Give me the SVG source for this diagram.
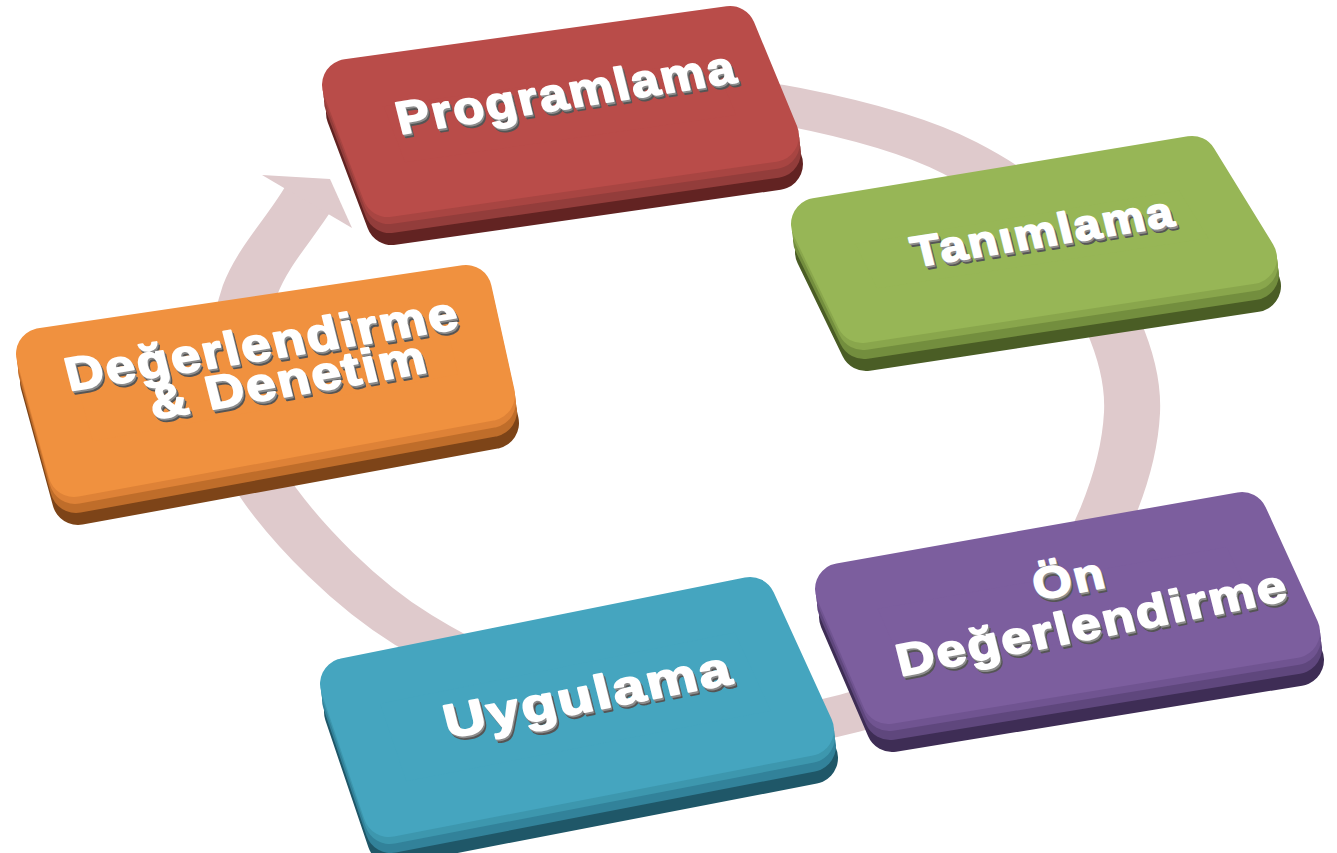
<svg xmlns="http://www.w3.org/2000/svg" xmlns:xlink="http://www.w3.org/1999/xlink" width="1337" height="853" viewBox="0 0 1337 853">
<style>
.sh{stroke-linejoin:round;stroke-width:52}
.lbl{font-family:"Liberation Sans",Arial,sans-serif;font-weight:700;letter-spacing:2px;text-anchor:middle;stroke-width:1.8;stroke-linejoin:round}
.red .f{fill:#b94c49;stroke:#b94c49}.red .l{fill:#a84542;stroke:#a84542}.red .m{fill:#933d3b;stroke:#933d3b}.red .d{fill:#622322;stroke:#622322}
.grn .f{fill:#97b656;stroke:#97b656}.grn .l{fill:#89a64c;stroke:#89a64c}.grn .m{fill:#738e3e;stroke:#738e3e}.grn .d{fill:#4a5d25;stroke:#4a5d25}
.org .f{fill:#f0913f;stroke:#f0913f}.org .l{fill:#de8237;stroke:#de8237}.org .m{fill:#bf6d2a;stroke:#bf6d2a}.org .d{fill:#7d4418;stroke:#7d4418}
.tea .f{fill:#45a5bf;stroke:#45a5bf}.tea .l{fill:#3d97ae;stroke:#3d97ae}.tea .m{fill:#32829a;stroke:#32829a}.tea .d{fill:#1f5768;stroke:#1f5768}
.pur .f{fill:#7c5e9e;stroke:#7c5e9e}.pur .l{fill:#705491;stroke:#705491}.pur .m{fill:#5f477d;stroke:#5f477d}.pur .d{fill:#3e2d55;stroke:#3e2d55}
</style>
<rect width="1337" height="853" fill="#ffffff"/>
<g id="connectors">
  <g transform="matrix(1,0,0,0.7,0,123)">
    <path d="M620,-44 C678,-37 736,-39 793,-23 C850,-7 914,16 960,50 C1006,84 1041,120 1070,181 C1099,242 1135,329 1132,414 C1129,499 1097,618 1050,690 C1003,762 920,816 850,843 C780,870 703,870 630,850 C557,830 473,777 413,724 C353,671 300,590 271,534 C242,478 242,439 238,390 C234,341 239,286 250,239 C262,193 288,154 307,111 L313,97" fill="none" stroke="#dfcacc" stroke-width="56"/>
  </g>
  <polygon points="262,175 330,179 352,228" fill="#dfcacc"/>
</g>

<g id="node-programlama" class="red">
  <polygon class="sh d" transform="translate(4,28)" points="348,85 730,32 773,136 388,191"/>
  <polygon class="sh m" transform="translate(2,16)" points="348,85 730,32 773,136 388,191"/>
  <polygon class="sh l" transform="translate(1,7)" points="348,85 730,32 773,136 388,191"/>
  <polygon class="sh f" points="348,85 730,32 773,136 388,191"/>
  <use xlink:href="#t1" transform="translate(2.5,3.5)" fill="#555" stroke="#555"/>
  <use xlink:href="#t1" transform="translate(1.2,1.8)" fill="#8c8c8c" stroke="#8c8c8c"/>
  <g fill="#fff" stroke="#fff"><text id="t1" class="lbl" font-size="45" x="0" y="16" transform="matrix(1.097,-0.17,0.25,1,566,92)">Programlama</text></g>
</g>

<g id="node-tanimlama" class="grn">
  <polygon class="sh d" transform="translate(4,28)" points="817,224 1192,162 1251,258 862,317"/>
  <polygon class="sh m" transform="translate(2,16)" points="817,224 1192,162 1251,258 862,317"/>
  <polygon class="sh l" transform="translate(1,7)" points="817,224 1192,162 1251,258 862,317"/>
  <polygon class="sh f" points="817,224 1192,162 1251,258 862,317"/>
  <use xlink:href="#t2" transform="translate(2.5,3.5)" fill="#555" stroke="#555"/>
  <use xlink:href="#t2" transform="translate(1.2,1.8)" fill="#8c8c8c" stroke="#8c8c8c"/>
  <g fill="#fff" stroke="#fff"><text id="t2" class="lbl" font-size="42" x="0" y="15" transform="matrix(1.12,-0.179,0.25,1,1043,231)">Tanımlama</text></g>
</g>

<g id="node-on-degerlendirme" class="pur">
  <polygon class="sh d" transform="translate(4,28)" points="841,589 1242,518 1294,632 888,698"/>
  <polygon class="sh m" transform="translate(2,16)" points="841,589 1242,518 1294,632 888,698"/>
  <polygon class="sh l" transform="translate(1,7)" points="841,589 1242,518 1294,632 888,698"/>
  <polygon class="sh f" points="841,589 1242,518 1294,632 888,698"/>
  <use xlink:href="#t3" transform="translate(2.5,3.5)" fill="#555" stroke="#555"/>
  <use xlink:href="#t3" transform="translate(1.2,1.8)" fill="#8c8c8c" stroke="#8c8c8c"/>
  <use xlink:href="#t4" transform="translate(2.5,3.5)" fill="#555" stroke="#555"/>
  <use xlink:href="#t4" transform="translate(1.2,1.8)" fill="#8c8c8c" stroke="#8c8c8c"/>
  <g fill="#fff" stroke="#fff">
    <text id="t3" class="lbl" font-size="43" x="0" y="15.4" transform="matrix(1.135,-0.216,0.25,1,1069,578)">Ön</text>
    <text id="t4" class="lbl" font-size="44" x="0" y="15.8" transform="matrix(1.17,-0.23,0.25,1,1092,622)">Değerlendirme</text>
  </g>
</g>

<g id="node-uygulama" class="tea">
  <polygon class="sh d" transform="translate(4,28)" points="346,684 750,603 808,730 389,811"/>
  <polygon class="sh m" transform="translate(2,16)" points="346,684 750,603 808,730 389,811"/>
  <polygon class="sh l" transform="translate(1,7)" points="346,684 750,603 808,730 389,811"/>
  <polygon class="sh f" points="346,684 750,603 808,730 389,811"/>
  <use xlink:href="#t5" transform="translate(2.5,3.5)" fill="#555" stroke="#555"/>
  <use xlink:href="#t5" transform="translate(1.2,1.8)" fill="#8c8c8c" stroke="#8c8c8c"/>
  <g fill="#fff" stroke="#fff"><text id="t5" class="lbl" font-size="46" x="0" y="16.5" transform="matrix(1.22,-0.235,0.25,1,588,694)">Uygulama</text></g>
</g>

<g id="node-degerlendirme-denetim" class="org">
  <polygon class="sh d" transform="translate(4,28)" points="42,354 466,291 489,395 74,471"/>
  <polygon class="sh m" transform="translate(2,16)" points="42,354 466,291 489,395 74,471"/>
  <polygon class="sh l" transform="translate(1,7)" points="42,354 466,291 489,395 74,471"/>
  <polygon class="sh f" points="42,354 466,291 489,395 74,471"/>
  <use xlink:href="#t6" transform="translate(2.5,3.5)" fill="#555" stroke="#555"/>
  <use xlink:href="#t6" transform="translate(1.2,1.8)" fill="#8c8c8c" stroke="#8c8c8c"/>
  <use xlink:href="#t7" transform="translate(2.5,3.5)" fill="#555" stroke="#555"/>
  <use xlink:href="#t7" transform="translate(1.2,1.8)" fill="#8c8c8c" stroke="#8c8c8c"/>
  <g fill="#fff" stroke="#fff">
    <text id="t6" class="lbl" font-size="46" x="0" y="16.5" transform="matrix(1.13,-0.181,0.25,1,262,343)">Değerlendirme</text>
    <text id="t7" class="lbl" font-size="46" x="0" y="16.5" transform="matrix(1.13,-0.195,0.25,1,288,379)">&amp; Denetim</text>
  </g>
</g>
</svg>
